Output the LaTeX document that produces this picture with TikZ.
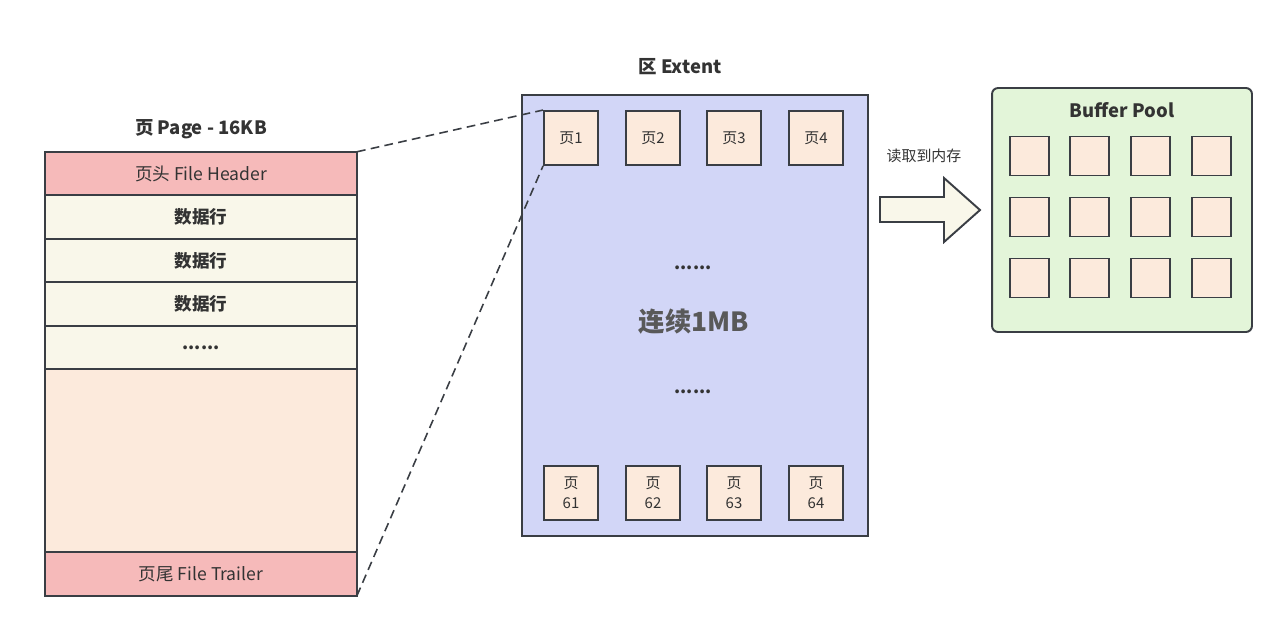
\documentclass[tikz,border=0pt]{standalone}
\usepackage{fontspec}
\setmainfont{Noto Sans CJK SC}
\usetikzlibrary{positioning}
\definecolor{hdrc}{RGB}{246,186,186}
\definecolor{rowc}{RGB}{249,247,234}
\definecolor{bodyc}{RGB}{252,234,220}
\definecolor{extc}{RGB}{210,214,247}
\definecolor{poolc}{RGB}{227,245,217}
\definecolor{edgec}{RGB}{58,62,68}
\definecolor{txtc}{RGB}{51,51,51}
\newcommand{\PW}{6.24cm}
\newcommand{\RH}{0.87cm}
\newcommand{\SQ}{1.08cm}
\newcommand{\BQ}{0.78cm}

\begin{document}
\begin{tikzpicture}[
    x=0.02cm, y=-0.02cm,
    every node/.style={text=txtc},
    cell/.style={rectangle, draw=edgec, line width=1.1pt, outer sep=0pt, minimum width=\PW, minimum height=\RH, inner sep=0pt, font=\fontsize{10}{12}\selectfont},
    rowbox/.style={cell, fill=rowc, font=\fontsize{10}{12}\selectfont\bfseries},
    pg/.style={rectangle, draw=edgec, line width=1.1pt, fill=bodyc, minimum size=\SQ, inner sep=0pt, align=center, font=\fontsize{8.5}{11.5}\selectfont},
    bq/.style={rectangle, draw=edgec, line width=1.1pt, fill=bodyc, minimum size=\BQ, inner sep=0pt},
    title/.style={font=\fontsize{10.5}{12}\selectfont\bfseries},
    link/.style={draw=edgec, line width=0.9pt, dash pattern=on 5pt off 3pt},
  ]
  \useasboundingbox (0,0) rectangle (1283,633);

  % --- the page: header, rows, free space, trailer
  \node[cell, fill=hdrc] (hdr) at (201,173.5) {页头 File Header};
  \node[rowbox, below=0pt of hdr] (r1) {数据行};
  \node[rowbox, below=0pt of r1] (r2) {数据行};
  \node[rowbox, below=0pt of r2] (r3) {数据行};
  \node[rowbox, below=0pt of r3] (r4) {......};
  \node[cell, fill=bodyc, minimum height=3.66cm, below=0pt of r4] (body) {};
  \node[cell, fill=hdrc, below=0pt of body] (trl) {页尾 File Trailer};
  \node[title, above=4pt of hdr] (ptitle) {页 Page - 16KB};

  % --- the extent: 64 contiguous pages
  \node[rectangle, draw=edgec, line width=1.1pt, fill=extc, minimum width=6.92cm, minimum height=8.82cm] (ext) at (695,315.5) {};
  \node[title] (etitle) at (680,67) {区 Extent};
  \foreach \i/\x in {1/571,2/653,3/734,4/816} {
    \node[pg] (p\i) at (\x,138) {页\i};
  }
  \foreach \i/\x in {61/571,62/653,63/734,64/816} {
    \node[pg] (p\i) at (\x,493) {页\\\i};
  }
  \node[font=\fontsize{10}{12}\selectfont\bfseries] (dots1) at (693,268) {......};
  \node[font=\fontsize{15}{17}\selectfont\bfseries, text=black!65] (mb) at (694,322) {连续1MB};
  \node[font=\fontsize{10}{12}\selectfont\bfseries] (dots2) at (693,392) {......};

  \draw[link] (hdr.north east) -- (p1.north west);
  \draw[link] (trl.south east) -- (p1.south west);

  % --- read into memory
  \filldraw[fill=rowc, draw=edgec, line width=1.1pt]
    (880,197) -- (944,197) -- (944,178) -- (980,210) -- (944,242) -- (944,222) -- (880,222) -- cycle;
  \node[font=\fontsize{8.5}{10}\selectfont] (rd) at (924,156) {读取到内存};

  % --- buffer pool
  \node[rectangle, rounded corners=0.12cm, draw=edgec, line width=1.1pt, fill=poolc, minimum width=5.2cm, minimum height=4.88cm] (pool) at (1122,210) {};
  \node[title] (bptitle) at (1122,110) {Buffer Pool};
  \foreach \r/\y in {1/156,2/217,3/278} {
    \foreach \c/\x in {1/1029.5,2/1089.5,3/1150.5,4/1211.5} {
      \node[bq] (b\r\c) at (\x,\y) {};
    }
  }

\end{tikzpicture}
\end{document}
